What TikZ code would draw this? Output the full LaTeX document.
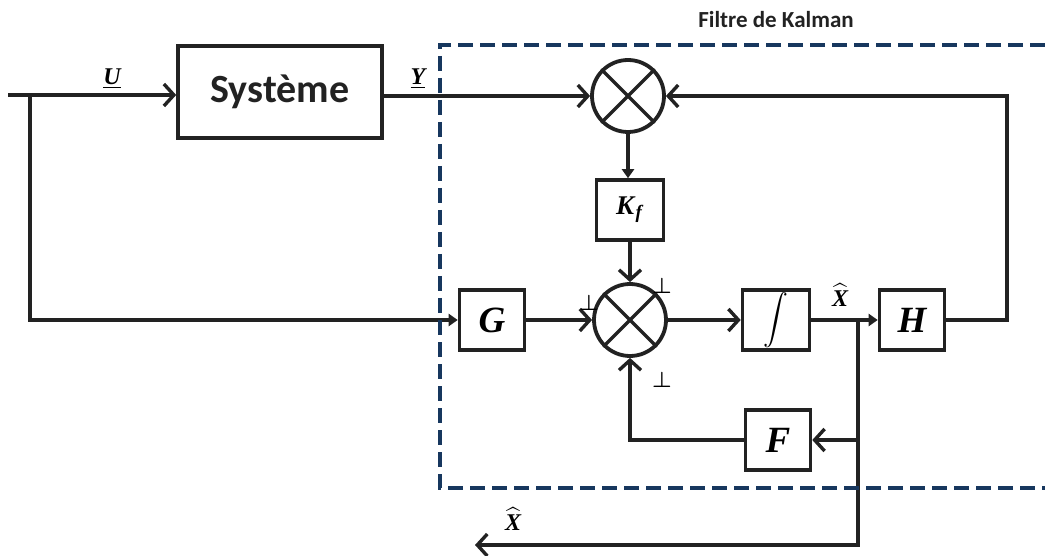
\RequirePackage{fix-cm}
\documentclass[tikz,border=0pt]{standalone}
\usepackage{amsmath}
\usepackage{exscale}
\usepackage{fontspec}
\setmainfont{Liberation Serif}
\newfontfamily\carlito{Carlito}
\usetikzlibrary{arrows.meta}
\definecolor{navy}{HTML}{17375E}
\definecolor{ink}{HTML}{222222}
\begin{document}
\begin{tikzpicture}[x=1pt,y=-1pt,
  line width=3.4pt, draw=ink,
  blk/.style={draw=ink, rectangle, minimum width=65pt, minimum height=60pt, inner sep=0pt, line width=3.6pt},
  sumnode/.style={draw=ink, circle, minimum size=72pt, inner sep=0pt, line width=3.8pt},
  oa/.style={-{Straight Barb[length=10pt,width=22pt]}},
  fa/.style={-{Triangle[length=9pt,width=12pt]}},
  lbl/.style={font=\fontsize{37}{40}\selectfont\bfseries\itshape},
  sml/.style={font=\fontsize{24}{26}\selectfont\bfseries\itshape, inner sep=0pt},
  sig/.style={font=\fontsize{22}{22}\selectfont, inner sep=0pt},
  kal/.style={navy, line width=4pt, dash pattern=on 15pt off 7pt},
]
\useasboundingbox (0,0) rectangle (1045,556);

% blocks
\node[draw=ink, rectangle, minimum width=204pt, minimum height=92pt, inner sep=0pt, line width=3.6pt,
      font=\carlito\bfseries\fontsize{40}{44}\selectfont, text=ink] (sys) at (280,92) {Système};
\node[sumnode] (s1) at (628,96) {};
\node[sumnode] (s2) at (630,320) {};
\node[blk, minimum width=67pt] (Kf) at (630,210) {\fontsize{27}{28}\selectfont$\textbf{\textit{K}}_{\textbf{\textit{f}}}$};
\node[blk, lbl] (G) at (492,320) {G};
\node[blk, minimum width=67pt] (int) at (776,320) {\fontsize{26}{26}\selectfont$\displaystyle\int$};
\node[blk, lbl] (H) at (912,320) {H};
\node[blk, lbl] (F) at (778,440) {F};

% crosses in summing junctions
\draw[line width=3.4pt] (s1.north east) -- (s1.south west) (s1.north west) -- (s1.south east);
\draw[line width=3.4pt] (s2.north east) -- (s2.south west) (s2.north west) -- (s2.south east);

% coordinates
\coordinate (in) at (8,95);
\coordinate (j0) at (30,95);
\coordinate (j1) at (858,320);
\coordinate (rc) at (1007,320);
\coordinate (bc) at (858,545);
\coordinate (out) at (475,545);

% connectors
\draw[oa] (in) -- (in -| sys.west);
\draw[fa] (j0) |- (G.west);
\draw[oa] (sys.east |- s1.west) -- (s1.west);
\draw[fa] (s1.south) -- (s1.south |- Kf.north);
\draw[oa] (Kf.south) -- (s2.north);
\draw[oa] (G.east) -- (s2.west);
\draw[oa] (s2.east) -- (int.west);
\draw[fa] (int.east) -- (H.west);
\draw[oa] (H.east) -- (rc) -- (rc |- s1.east) -- (s1.east);
\draw[oa] (j1) -- (j1 |- F.east) -- (F.east);
\draw[oa] (F.west) -| (s2.south);
\draw[oa] (j1) -- (bc) -- (out);

% labels
\node[sml] (u) at (112,79) {\underline{U}};
\node[sml] (y) at (418,79) {\underline{Y}};
\node[sml] (xh1) at (840,295) {$\widehat{\mbox{\bfseries\itshape X}}$};
\node[sml] (xh2) at (513,519) {$\widehat{\mbox{\bfseries\itshape X}}$};
\node[sig] (p1) at (589,303) {$\boldsymbol{\perp}$};
\node[sig] (p2) at (662,286) {$\boldsymbol{\perp}$};
\node[sig] (p3) at (662,380) {$\boldsymbol{\perp}$};
\node[font=\carlito\bfseries\fontsize{23}{26}\selectfont, text=ink] (title) at (776,20) {Filtre de Kalman};

% Kalman filter frame
\draw[kal] (1045,45) -- (440,45) -- (440,488) -- (1045,488);
\end{tikzpicture}
\end{document}
